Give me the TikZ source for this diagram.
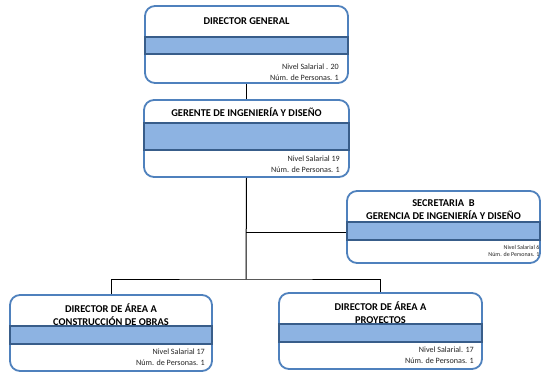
\documentclass[tikz,border=0pt]{standalone}
\usepackage{fontspec}
\setmainfont{Carlito}
\definecolor{boxblue}{RGB}{79,129,189}
\definecolor{bandfill}{RGB}{141,179,226}
\definecolor{banddraw}{RGB}{56,93,138}
\tikzset{
  card/.style={draw=boxblue, line width=1.8pt, rounded corners=10pt, fill=white, inner sep=0pt},
  band/.style={draw=banddraw, fill=bandfill, line width=1.7pt, inner sep=0pt},
  title/.style={font=\bfseries\fontsize{10.4}{13}\selectfont, align=center, inner sep=0pt, text=black},
  small/.style={font=\fontsize{8.1}{11}\selectfont, align=right, inner sep=0pt, text=black!85, anchor=east},
  tiny/.style={font=\fontsize{6}{6.3}\selectfont, align=right, inner sep=0pt, text=black!85, anchor=east},
  link/.style={draw=black, line width=1pt}
}
\begin{document}
\begin{tikzpicture}[x=1pt,y=-1pt]
\useasboundingbox (0,0) rectangle (541,373);
% boxes
\node[card, minimum width=203pt, minimum height=77pt] (dg) at (246.5,44.5) {};
\node[card, minimum width=205pt, minimum height=77pt] (gi) at (246.5,138.5) {};
\node[card, minimum width=193pt, minimum height=72pt] (sec) at (443.5,227) {};
\node[card, minimum width=202pt, minimum height=76pt] (dc) at (111,333) {};
\node[card, minimum width=203pt, minimum height=76pt] (dp) at (380.5,331) {};
% bands
\node[band, minimum width=203pt, minimum height=17pt] (dgb) at (246.5,45.5) {};
\node[band, minimum width=205pt, minimum height=27pt] (gib) at (246.5,136.5) {};
\node[band, minimum width=193pt, minimum height=18pt] (secb) at (443.5,231) {};
\node[band, minimum width=202pt, minimum height=18pt] (dcb) at (111,335) {};
\node[band, minimum width=203pt, minimum height=18pt] (dpb) at (380.5,333) {};
% titles
\node[title] (dgt) at (246.5,21) {DIRECTOR GENERAL};
\node[title] (git) at (246.5,112) {GERENTE DE INGENIERÍA Y DISEÑO};
\node[title] (sect) at (443.5,210) {SECRETARIA\ \ B\\GERENCIA DE INGENIERÍA Y DISEÑO};
\node[title] (dct) at (111,314.5) {DIRECTOR DE ÁREA A\\CONSTRUCCIÓN DE OBRAS};
\node[title] (dpt) at (380.5,313) {DIRECTOR DE ÁREA A\\PROYECTOS};
% salary info
\node[small] (dgs) at (339,72.5) {Nivel Salarial . 20\\Núm. de Personas. 1};
\node[small] (gis) at (340,164) {Nivel Salarial 19\\Núm. de Personas. 1};
\node[tiny] (secs) at (539.5,251) {Nivel Salarial 6\\Núm. de Personas. 1};
\node[small] (dcs) at (205,357) {Nivel Salarial 17\\Núm. de Personas. 1};
\node[small] (dps) at (474,355) {Nivel Salarial. 17\\Núm. de Personas. 1};
% connectors
\coordinate (jsec) at (246,232);
\coordinate (jbot) at (246,279);
\draw[link] (dg.south) -- (gi.north);
\draw[link] (gi.south) -- (jbot);
\draw[link] (jsec) -- (sec.west |- jsec);
\draw[link] (dc.north) |- (jbot) -| (dp.north);
\end{tikzpicture}
\end{document}
